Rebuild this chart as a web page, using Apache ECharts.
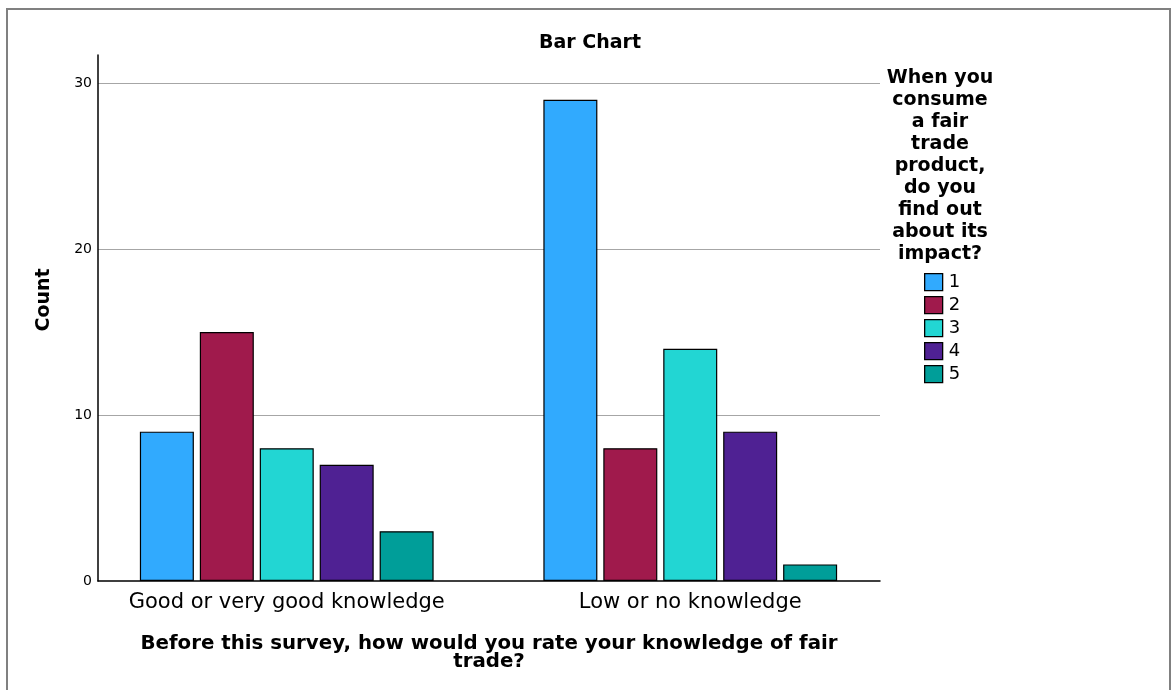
<!DOCTYPE html>
<html>
<head>
<meta charset="utf-8">
<script src="https://cdn.jsdelivr.net/npm/echarts@6/dist/echarts.min.js"></script>
<style>
html,body{margin:0;padding:0;background:#fff;}
#chart{width:1172px;height:690px;position:absolute;left:0;top:0;}
#frame{position:absolute;left:6px;top:8px;width:1165px;height:700px;border:2px solid #808080;box-sizing:border-box;pointer-events:none;}
</style>
</head>
<body>
<div id="chart"></div>
<div id="frame"></div>
<script>
const categories = ['Good or very good knowledge', 'Low or no knowledge'];
const seriesNames = ['1', '2', '3', '4', '5'];
const values = [
  [9, 29],
  [15, 8],
  [8, 14],
  [7, 9],
  [3, 1]
];
const colors = ['#31aafe', '#a01a4c', '#22d6d3', '#4f2193', '#009e99'];
const yTicks = [0, 10, 20, 30];
const chartTitle = 'Bar Chart';
const xTitle = 'Before this survey, how would you rate your knowledge of fair\ntrade?';
const yTitle = 'Count';
const legendTitle = 'When you\nconsume\na fair\ntrade\nproduct,\ndo you\nfind out\nabout its\nimpact?';

const FONT = 'DejaVu Sans';
const yMax = 31.7;

const chart = echarts.init(document.getElementById('chart'), null, {renderer: 'canvas'});
const yCommon = {
  type: 'value', min: 0, max: yMax, interval: 10
};
chart.setOption({
  animation: false,
  backgroundColor: '#fff',
  textStyle: {fontFamily: FONT},
  title: [
    {text: chartTitle, left: 585, top: 29, textAlign: 'center',
     textStyle: {fontFamily: FONT, fontWeight: 'bold', fontSize: 19, color: '#000'}},
    {text: legendTitle, left: 935, top: 62, textAlign: 'center',
     textStyle: {fontFamily: FONT, fontWeight: 'bold', fontSize: 19, lineHeight: 22, color: '#000', align: 'center'}}
  ],
  legend: {
    orient: 'vertical', left: 924, top: 273, padding: 0,
    itemWidth: 18, itemHeight: 17, itemGap: 4.7, icon: 'rect',
    data: seriesNames,
    itemStyle: {borderColor: '#000', borderWidth: 1.3},
    textStyle: {fontFamily: FONT, fontSize: 18, color: '#000', padding: [0,0,0,1]}
  },
  grid: [
    {left: 98, right: 292, top: 55, bottom: 109},
    {left: 85, right: 280, top: 55, bottom: 109}
  ],
  xAxis: [
    {gridIndex: 0, type: 'category', data: categories,
     axisLine: {show: true, lineStyle: {color: '#000', width: 1.5}},
     axisTick: {show: false}, axisLabel: {show: false}, splitLine: {show: false},
     name: xTitle, nameLocation: 'middle', nameGap: 54,
     nameTextStyle: {fontFamily: FONT, fontWeight: 'bold', fontSize: 19.8, color: '#000', lineHeight: 18}},
    {gridIndex: 1, type: 'category', data: categories,
     axisLine: {show: false}, axisTick: {show: false},
     axisLabel: {show: true, interval: 0, fontFamily: FONT, fontSize: 21, color: '#000', margin: 11}}
  ],
  yAxis: [
    Object.assign({gridIndex: 0}, yCommon, {
      axisLine: {show: true, lineStyle: {color: '#000', width: 1.5}},
      axisTick: {show: false},
      axisLabel: {fontFamily: FONT, fontSize: 14, color: '#000', margin: 6, showMaxLabel: false,
        formatter: v => yTicks.includes(v) ? String(v) : ''},
      splitLine: {show: true, showMaxLine: false, showMinLine: false, lineStyle: {color: '#a6a6a6', width: 1}},
      name: yTitle, nameLocation: 'middle', nameRotate: 90, nameGap: 44,
      nameTextStyle: {fontFamily: FONT, fontWeight: 'bold', fontSize: 19, color: '#000', padding: [0,0,0,36]}
    }),
    Object.assign({gridIndex: 1}, yCommon, {
      show: false, splitLine: {show: false}
    })
  ],
  series: seriesNames.map((n, i) => ({
    name: n, type: 'bar', xAxisIndex: 1, yAxisIndex: 1,
    data: values[i], barWidth: 54, barGap: '11%',
    itemStyle: {color: colors[i], borderColor: '#000', borderWidth: 1.2}
  }))
});
</script>
</body>
</html>
